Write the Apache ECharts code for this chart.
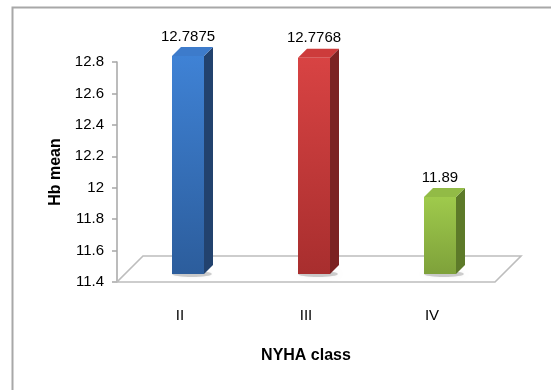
<!DOCTYPE html>
<html>
<head>
<meta charset="utf-8">
<script src="https://cdn.jsdelivr.net/npm/echarts@6/dist/echarts.min.js"></script>
<style>
  html, body { margin: 0; padding: 0; background: #fff; }
  #chart { width: 551px; height: 390px; }
</style>
</head>
<body>
<div id="chart"></div>
<script>
// NYHA class vs mean haemoglobin
const categories = ['II', 'III', 'IV'];
const hbMean = [12.7875, 12.7768, 11.89];
const yMin = 11.4;
const yMax = 12.8;
const yStep = 0.2;

// Face colours of each 3-D column: [front top, front bottom, side, cap]
const barColors = [
  ['#3f82d5', '#2c5d9c', '#22426e', '#3d7bcb'],
  ['#d84343', '#a82e2e', '#7b2222', '#cd3b3b'],
  ['#9fca4c', '#7ea13a', '#5d7a29', '#92bb46']
];

const FONT = '"Liberation Sans", Arial, sans-serif';
const BAR_W = 32;      // front face width
const BAR_D = 9;       // column depth (oblique offset)
const SHIFT = 8;       // columns sit a bit behind the floor's front edge
const FLOOR_D = 26;    // floor depth (oblique offset)

function renderFloor(params, api) {
  const cs = params.coordSys;
  const left = cs.x, right = cs.x + cs.width, bottom = cs.y + cs.height;
  return {
    type: 'polygon',
    shape: {
      points: [
        [left, bottom],
        [right, bottom],
        [right + FLOOR_D, bottom - FLOOR_D],
        [left + FLOOR_D, bottom - FLOOR_D]
      ]
    },
    style: { fill: '#ffffff', stroke: '#bdbdbd', lineWidth: 1.6 }
  };
}

function renderBar(params, api) {
  const idx = params.dataIndex;
  const c = barColors[idx];
  const top = api.coord([api.value(0), api.value(1)]);
  const base = api.coord([api.value(0), yMin]);
  const x0 = top[0] + SHIFT - BAR_W / 2;
  const x1 = x0 + BAR_W;
  const yT = top[1] - SHIFT;
  const yB = base[1] - SHIFT;
  return {
    type: 'group',
    children: [
      {
        type: 'ellipse',
        shape: { cx: x0 + BAR_W / 2 + 4, cy: yB, rx: BAR_W / 2 + 4, ry: 3 },
        style: { fill: 'rgba(0,0,0,0.18)', shadowBlur: 4, shadowColor: 'rgba(0,0,0,0.25)' }
      },
      {
        type: 'polygon',
        shape: { points: [[x1, yT], [x1 + BAR_D, yT - BAR_D], [x1 + BAR_D, yB - BAR_D], [x1, yB]] },
        style: { fill: c[2] }
      },
      {
        type: 'polygon',
        shape: { points: [[x0, yT], [x0 + BAR_D, yT - BAR_D], [x1 + BAR_D, yT - BAR_D], [x1, yT]] },
        style: { fill: c[3] }
      },
      {
        type: 'rect',
        shape: { x: x0, y: yT, width: BAR_W, height: yB - yT },
        style: {
          fill: new echarts.graphic.LinearGradient(0, 0, 0, 1, [
            { offset: 0, color: c[0] },
            { offset: 1, color: c[1] }
          ])
        }
      },
      {
        type: 'text',
        style: {
          text: String(hbMean[idx]),
          x: x0 + BAR_W / 2,
          y: yT - BAR_D - 3,
          align: 'center',
          verticalAlign: 'bottom',
          font: '15px ' + FONT,
          fill: '#000'
        }
      }
    ]
  };
}

const chart = echarts.init(document.getElementById('chart'));
chart.setOption({
  animation: false,
  backgroundColor: '#fff',
  grid: { left: 117, right: 56, top: 62, bottom: 108 },
  graphic: [{
    type: 'rect',
    shape: { x: 12.5, y: 7.5, width: 600, height: 420 },
    style: { fill: 'none', stroke: '#a8a8a8', lineWidth: 2 },
    silent: true
  }],
  xAxis: {
    type: 'category',
    data: categories,
    axisLine: { show: false },
    axisTick: { show: false },
    axisLabel: { margin: 26, fontSize: 15, fontFamily: FONT, color: '#000' },
    name: 'NYHA class',
    nameLocation: 'middle',
    nameGap: 66,
    nameTextStyle: { fontSize: 16, fontWeight: 'bold', fontFamily: '"Liberation Sans Narrow", ' + FONT, color: '#000' }
  },
  yAxis: {
    type: 'value',
    min: yMin,
    max: yMax,
    interval: yStep,
    axisLine: { show: true, lineStyle: { color: '#a6a6a6', width: 1.5 } },
    axisTick: { show: true, length: 5, lineStyle: { color: '#a6a6a6', width: 1.5 } },
    splitLine: { show: false },
    axisLabel: {
      margin: 13,
      fontSize: 15,
      fontFamily: FONT,
      color: '#000',
      formatter: v => String(+v.toFixed(1))
    },
    name: 'Hb mean',
    nameLocation: 'middle',
    nameRotate: 90,
    nameGap: 51,
    nameTextStyle: { fontSize: 16, fontWeight: 'bold', fontFamily: FONT, color: '#000' }
  },
  series: [
    {
      type: 'custom',
      z: 1,
      silent: true,
      data: [[0, yMin]],
      renderItem: renderFloor
    },
    {
      type: 'custom',
      z: 3,
      data: hbMean.map((v, i) => [i, v]),
      encode: { x: 0, y: 1 },
      renderItem: renderBar
    }
  ]
});
</script>
</body>
</html>
